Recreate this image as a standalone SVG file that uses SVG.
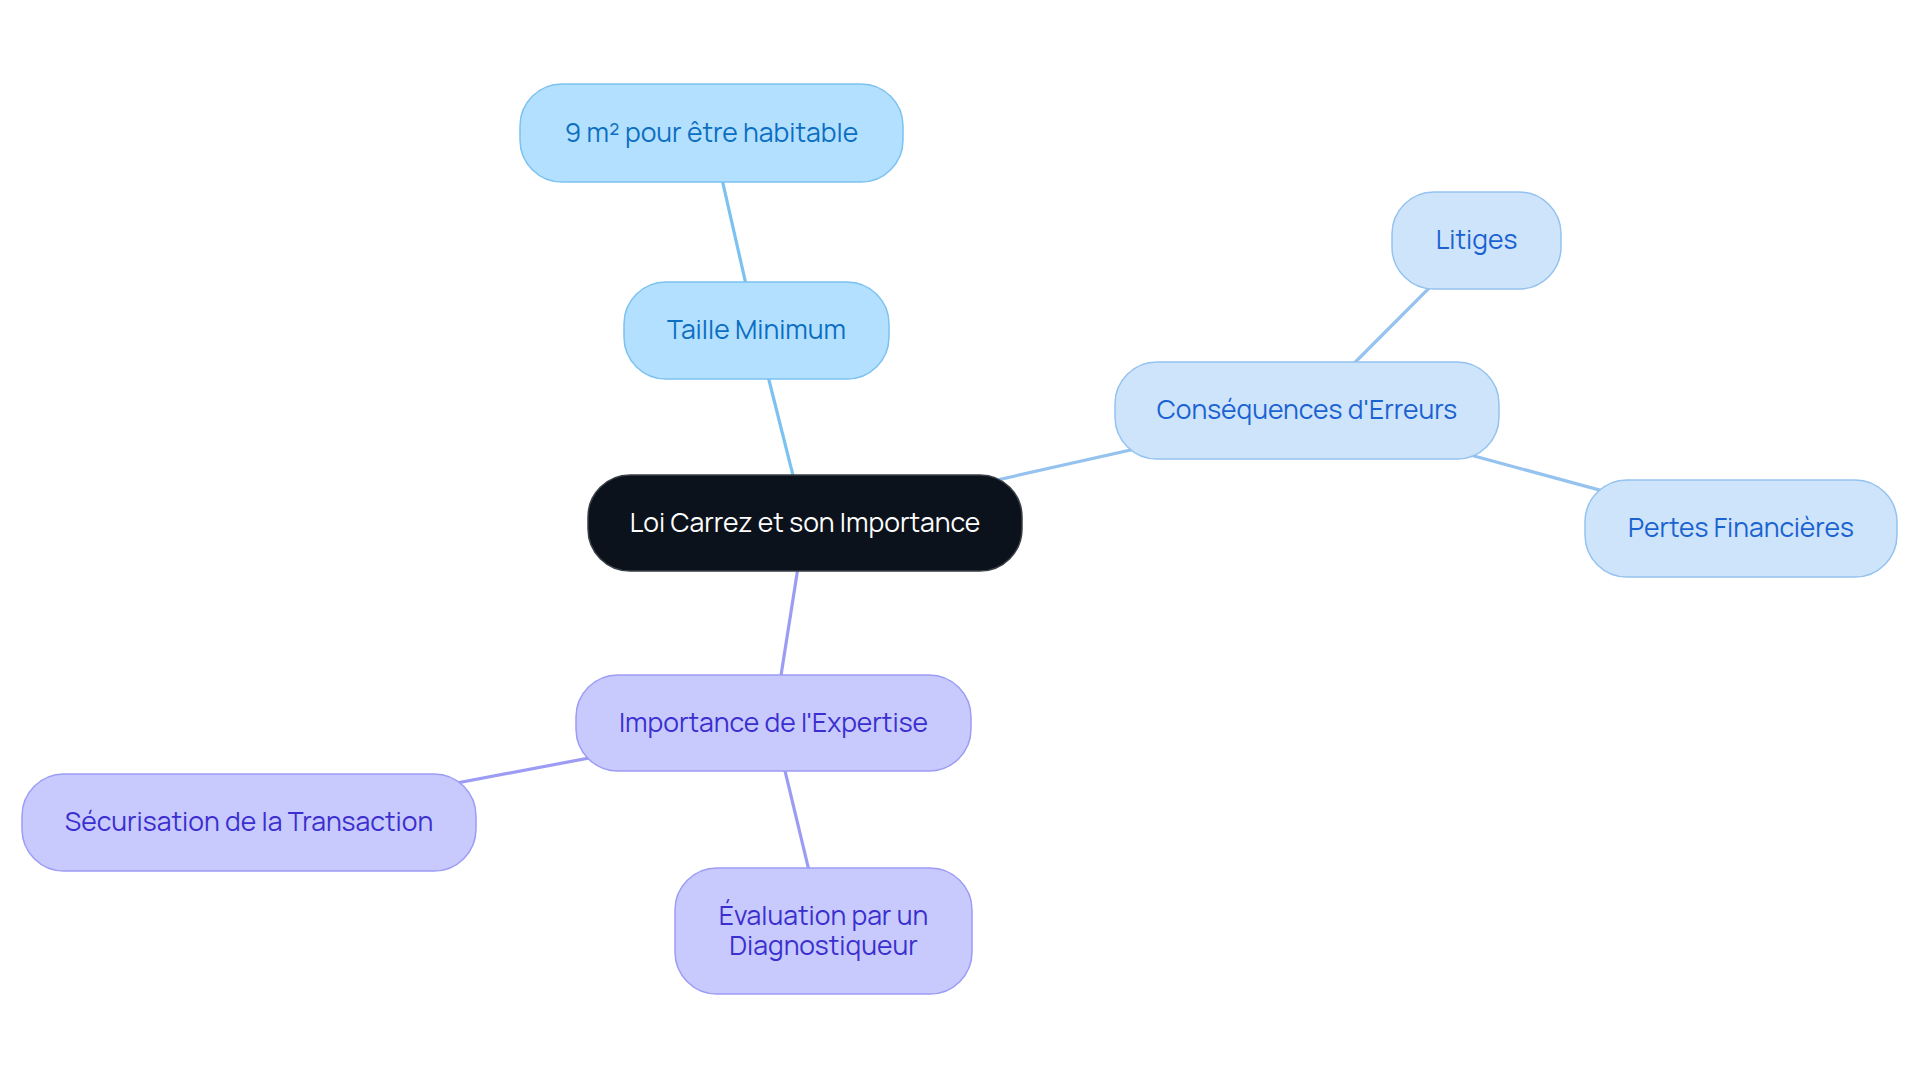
<svg xmlns="http://www.w3.org/2000/svg" width="1920" height="1083" viewBox="0 0 1920 1083">
<style>
.t{font-family:Manrope,Inter,"Noto Sans",sans-serif;font-size:26.5px;text-anchor:middle;dominant-baseline:central}
.c1{stroke:#7cc2f0;stroke-width:3.2;fill:none}
.c2{stroke:#95c2ef;stroke-width:3.2;fill:none}
.c3{stroke:#9c9cf5;stroke-width:3.2;fill:none}
.n1 rect{fill:#b3e0fe;stroke:#7cc2f0;stroke-width:1.5}
.n1 text{fill:#0b6ec1}
.n2 rect{fill:#cde4fb;stroke:#95c2ef;stroke-width:1.5}
.n2 text{fill:#1a62d0}
.n3 rect{fill:#c8cafd;stroke:#9c9cf5;stroke-width:1.5}
.n3 text{fill:#3a2fce}
</style>
<rect width="1920" height="1083" fill="#ffffff"/>
<g id="connectors">
<line class="c1" x1="805" y1="523" x2="756.5" y2="330.5"/>
<line class="c1" x1="756.5" y1="330.5" x2="711.5" y2="133"/>
<line class="c2" x1="805" y1="523" x2="1307" y2="410.5"/>
<line class="c2" x1="1307" y1="410.5" x2="1476.5" y2="240.5"/>
<line class="c2" x1="1307" y1="410.5" x2="1741" y2="528.5"/>
<line class="c3" x1="805" y1="523" x2="773.5" y2="723"/>
<line class="c3" x1="773.5" y1="723" x2="249" y2="822.5"/>
<line class="c3" x1="773.5" y1="723" x2="823.5" y2="931"/>
</g>
<g id="root">
<rect x="588" y="475" width="434" height="96" rx="42" fill="#0c121c" stroke="#3a3f46" stroke-width="1.5"/>
<text class="t" x="805" y="521.5" fill="#ffffff">Loi Carrez et son Importance</text>
</g>
<g id="taille" class="n1">
<rect x="624" y="282" width="265" height="97" rx="42"/>
<text class="t" x="756.5" y="328.5">Taille Minimum</text>
</g>
<g id="habitable" class="n1">
<rect x="520" y="84" width="383" height="98" rx="42"/>
<text class="t" x="711.5" y="131.5">9 m² pour être habitable</text>
</g>
<g id="consequences" class="n2">
<rect x="1115" y="362" width="384" height="97" rx="42"/>
<text class="t" x="1307" y="408.5">Conséquences d'Erreurs</text>
</g>
<g id="litiges" class="n2">
<rect x="1392" y="192" width="169" height="97" rx="42"/>
<text class="t" x="1476.5" y="238.5">Litiges</text>
</g>
<g id="pertes" class="n2">
<rect x="1585" y="480" width="312" height="97" rx="42"/>
<text class="t" x="1741" y="526.5">Pertes Financières</text>
</g>
<g id="expertise" class="n3">
<rect x="576" y="675" width="395" height="96" rx="42"/>
<text class="t" x="773.5" y="721.5">Importance de l'Expertise</text>
</g>
<g id="securisation" class="n3">
<rect x="22" y="774" width="454" height="97" rx="42"/>
<text class="t" x="249" y="820.5">Sécurisation de la Transaction</text>
</g>
<g id="evaluation" class="n3">
<rect x="675" y="868" width="297" height="126" rx="42"/>
<text class="t" x="823.5" y="914.5">Évaluation par un</text>
<text class="t" x="823.5" y="945">Diagnostiqueur</text>
</g>
</svg>
